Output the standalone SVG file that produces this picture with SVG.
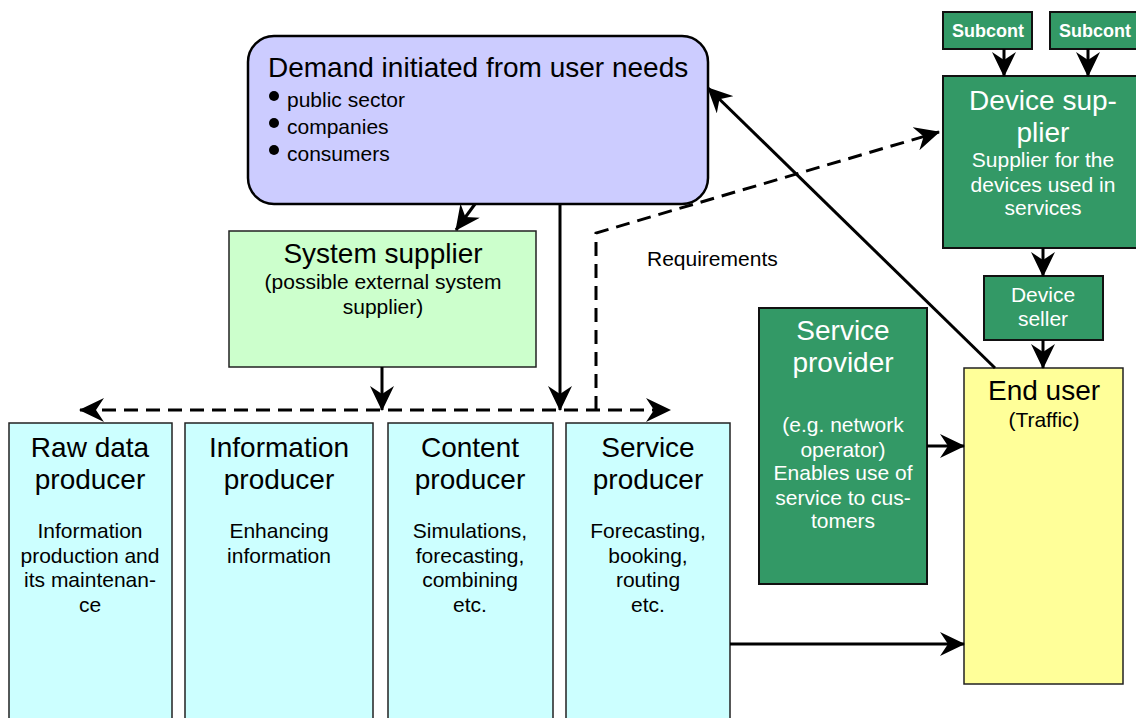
<svg xmlns="http://www.w3.org/2000/svg" width="1136" height="718" viewBox="0 0 1136 718">
<style>
text{font-family:"Liberation Sans",Arial,sans-serif;text-anchor:middle;fill:#000}
.t26{font-size:28px}
.t24{font-size:28px}
.t18{font-size:21px}
.w{fill:#fff}
.cyan{fill:#ccffff;stroke:#222;stroke-width:1.5}
.dg{fill:#339966;stroke:#111;stroke-width:2}
.ln{fill:none;stroke:#000;stroke-width:3}
.dash{fill:none;stroke:#000;stroke-width:3;stroke-dasharray:14 8}
</style>
<defs>
<marker id="arr" viewBox="0 0 25 24" refX="24" refY="12" markerWidth="25" markerHeight="24" markerUnits="userSpaceOnUse" orient="auto-start-reverse">
<path d="M0,0 L25,12 L0,24 L8,12 z" fill="#000"/>
</marker>
</defs>
<rect width="1136" height="718" fill="#fff"/>

<g id="demand">
<rect x="248" y="36" width="460" height="168" rx="26" fill="#ccccff" stroke="#000" stroke-width="2.5"/>
<text x="268" y="77" class="t26" style="text-anchor:start">Demand initiated from user needs</text>
<circle cx="274" cy="96" r="5" fill="#000"/>
<circle cx="274" cy="123" r="5" fill="#000"/>
<circle cx="274" cy="150" r="5" fill="#000"/>
<text x="287" y="107" class="t18" style="text-anchor:start">public sector</text>
<text x="287" y="134" class="t18" style="text-anchor:start">companies</text>
<text x="287" y="161" class="t18" style="text-anchor:start">consumers</text>
</g>

<g id="system-supplier">
<rect x="229" y="231" width="307" height="136" fill="#ccffcc" stroke="#222" stroke-width="1.5"/>
<text x="383" y="263" class="t24">System supplier</text>
<text x="383" y="289" class="t18">(possible external system</text>
<text x="383" y="314" class="t18">supplier)</text>
</g>

<g id="raw-data-producer">
<rect x="9" y="423" width="163" height="310" class="cyan"/>
<text x="90" y="457" class="t26">Raw data</text>
<text x="90" y="489" class="t26">producer</text>
<text x="90" y="538" class="t18">Information</text>
<text x="90" y="563" class="t18">production and</text>
<text x="90" y="587" class="t18">its maintenan-</text>
<text x="90" y="612" class="t18">ce</text>
</g>

<g id="information-producer">
<rect x="185" y="423" width="188" height="310" class="cyan"/>
<text x="279" y="457" class="t26">Information</text>
<text x="279" y="489" class="t26">producer</text>
<text x="279" y="538" class="t18">Enhancing</text>
<text x="279" y="563" class="t18">information</text>
</g>

<g id="content-producer">
<rect x="388" y="423" width="165" height="310" class="cyan"/>
<text x="470" y="457" class="t26">Content</text>
<text x="470" y="489" class="t26">producer</text>
<text x="470" y="538" class="t18">Simulations,</text>
<text x="470" y="563" class="t18">forecasting,</text>
<text x="470" y="587" class="t18">combining</text>
<text x="470" y="612" class="t18">etc.</text>
</g>

<g id="service-producer">
<rect x="566" y="423" width="164" height="310" class="cyan"/>
<text x="648" y="457" class="t26">Service</text>
<text x="648" y="489" class="t26">producer</text>
<text x="648" y="538" class="t18">Forecasting,</text>
<text x="648" y="563" class="t18">booking,</text>
<text x="648" y="587" class="t18">routing</text>
<text x="648" y="612" class="t18">etc.</text>
</g>

<g id="subcont-1">
<rect x="943" y="12" width="89" height="37" class="dg"/>
<text x="988" y="37" class="w" style="font-size:18px;font-weight:bold">Subcont</text>
</g>

<g id="subcont-2">
<rect x="1050" y="12" width="90" height="37" class="dg"/>
<text x="1095" y="37" class="w" style="font-size:18px;font-weight:bold">Subcont</text>
</g>

<g id="device-supplier">
<rect x="943" y="76" width="197" height="172" class="dg"/>
<text x="1043" y="110" class="t26 w">Device sup-</text>
<text x="1043" y="142" class="t26 w">plier</text>
<text x="1043" y="167" class="t18 w">Supplier for the</text>
<text x="1043" y="192" class="t18 w">devices used in</text>
<text x="1043" y="215" class="t18 w">services</text>
</g>

<g id="device-seller">
<rect x="984" y="276" width="119" height="64" class="dg"/>
<text x="1043" y="302" class="t18 w">Device</text>
<text x="1043" y="326" class="t18 w">seller</text>
</g>

<g id="service-provider">
<rect x="759" y="308" width="168" height="276" class="dg"/>
<text x="843" y="340" class="t26 w">Service</text>
<text x="843" y="372" class="t26 w">provider</text>
<text x="843" y="432" class="t18 w">(e.g. network</text>
<text x="843" y="457" class="t18 w">operator)</text>
<text x="843" y="480" class="t18 w">Enables use of</text>
<text x="843" y="505" class="t18 w">service to cus-</text>
<text x="843" y="528" class="t18 w">tomers</text>
</g>

<g id="end-user">
<rect x="964" y="368" width="159" height="316" fill="#ffff99" stroke="#222" stroke-width="1.5"/>
<text x="1044" y="400" class="t24">End user</text>
<text x="1044" y="427" class="t18">(Traffic)</text>
</g>

<g id="connectors">
<line x1="475" y1="204" x2="456" y2="230" class="ln" marker-end="url(#arr)"/>
<line x1="560" y1="204" x2="560" y2="410" class="ln" marker-end="url(#arr)"/>
<line x1="382" y1="367" x2="382" y2="410" class="ln" marker-end="url(#arr)"/>
<line x1="80" y1="410" x2="670" y2="410" class="dash" marker-start="url(#arr)" marker-end="url(#arr)"/>
<polyline points="596,410 596,233 939,132" class="dash" marker-end="url(#arr)"/>
<line x1="995" y1="368" x2="708" y2="88" class="ln" marker-end="url(#arr)"/>
<line x1="1004" y1="49" x2="1004" y2="76" class="ln" marker-end="url(#arr)"/>
<line x1="1088" y1="49" x2="1088" y2="76" class="ln" marker-end="url(#arr)"/>
<line x1="1043" y1="248" x2="1043" y2="276" class="ln" marker-end="url(#arr)"/>
<line x1="1043" y1="340" x2="1043" y2="368" class="ln" marker-end="url(#arr)"/>
<line x1="927" y1="446" x2="964" y2="446" class="ln" marker-end="url(#arr)"/>
<line x1="730" y1="644" x2="964" y2="644" class="ln" marker-end="url(#arr)"/>
<text x="647" y="266" class="t18" style="text-anchor:start">Requirements</text>
</g>
</svg>
